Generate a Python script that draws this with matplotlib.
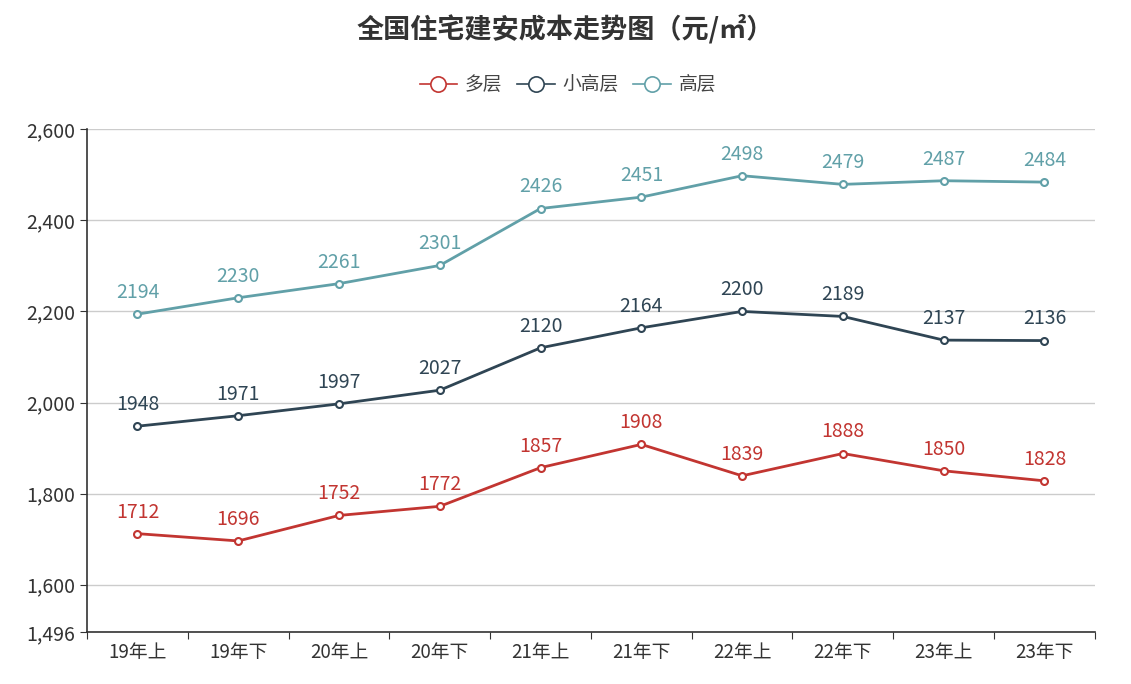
import matplotlib.pyplot as plt
from matplotlib.lines import Line2D
from matplotlib.ticker import FuncFormatter

plt.rcParams['font.family'] = ['Noto Sans CJK SC', 'DejaVu Sans']

periods = ["19年上", "19年下", "20年上", "20年下", "21年上", "21年下",
           "22年上", "22年下", "23年上", "23年下"]
duoceng = [1712, 1696, 1752, 1772, 1857, 1908, 1839, 1888, 1850, 1828]
xiaogaoceng = [1948, 1971, 1997, 2027, 2120, 2164, 2200, 2189, 2137, 2136]
gaoceng = [2194, 2230, 2261, 2301, 2426, 2451, 2498, 2479, 2487, 2484]
y_ticks = [1496, 1600, 1800, 2000, 2200, 2400, 2600]

series = [
    ("多层", duoceng, "#c23531"),
    ("小高层", xiaogaoceng, "#2f4554"),
    ("高层", gaoceng, "#61a0a8"),
]

fig = plt.figure(figsize=(11.31, 6.84), dpi=100)
ax = fig.add_axes([0.077, 0.076, 0.891, 0.735])

x = list(range(len(periods)))
handles = []
for name, vals, color in series:
    ax.plot(x, vals, color=color, lw=2.0, marker="o", markersize=5,
            markerfacecolor="white", markeredgecolor=color, markeredgewidth=1.5,
            zorder=3)
    for xi, v in zip(x, vals):
        ax.annotate(str(v), (xi, v), xytext=(0, 8), textcoords="offset points",
                    ha="center", va="bottom", fontsize=14, color=color)
    handles.append(Line2D([], [], color=color, lw=1.2, marker="o", markersize=11,
                          markerfacecolor="white", markeredgecolor=color,
                          markeredgewidth=1.2, label=name))

ax.set_xlim(-0.5, len(periods) - 0.5)
ax.set_ylim(1496, 2600)
ax.set_yticks(y_ticks)
ax.yaxis.set_major_formatter(FuncFormatter(lambda v, p: f"{int(v):,}"))
ax.grid(axis="y", color="#cccccc", lw=1)
ax.set_axisbelow(True)

# category ticks sit on band boundaries, labels in band centres
ax.set_xticks([i - 0.5 for i in range(len(periods) + 1)])
ax.set_xticklabels([])
ax.set_xticks(x, minor=True)
ax.set_xticklabels(periods, minor=True)
ax.tick_params(axis="x", which="major", length=5, color="#333333")
ax.tick_params(axis="x", which="minor", length=0, pad=7, labelsize=13.5, labelcolor="#333333")
ax.tick_params(axis="y", length=5, color="#333333", labelsize=14, labelcolor="#333333")

for s in ["top", "right"]:
    ax.spines[s].set_visible(False)
for s in ["left", "bottom"]:
    ax.spines[s].set_color("#333333")
    ax.spines[s].set_linewidth(1.2)

fig.text(0.5, 0.958, "全国住宅建安成本走势图（元/㎡）", ha="center", va="center",
         fontsize=19.5, fontweight="bold", color="#333333")
fig.legend(handles=handles, loc="center", bbox_to_anchor=(0.502, 0.876), ncol=3,
           frameon=False, fontsize=13.5, handlelength=2.0, columnspacing=0.8,
           handletextpad=0.4, labelcolor="#444444")

fig.savefig("out.png", dpi=100)
